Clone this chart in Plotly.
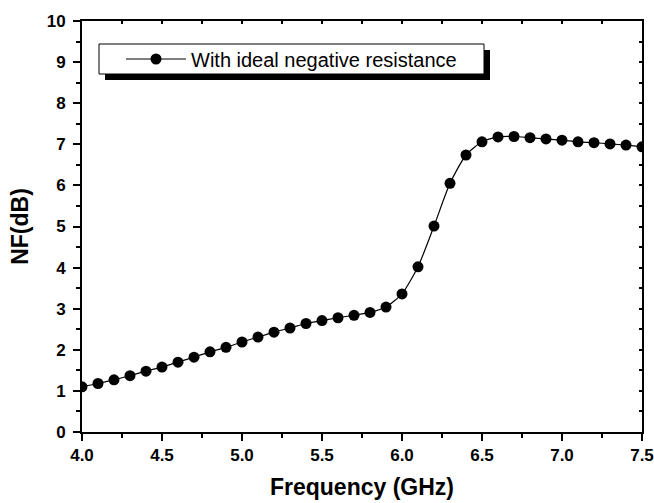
import plotly.graph_objects as go

freq_ghz = [4.0, 4.1, 4.2, 4.3, 4.4, 4.5, 4.6, 4.7, 4.8, 4.9,
            5.0, 5.1, 5.2, 5.3, 5.4, 5.5, 5.6, 5.7, 5.8, 5.9,
            6.0, 6.1, 6.2, 6.3, 6.4, 6.5, 6.6, 6.7, 6.8, 6.9,
            7.0, 7.1, 7.2, 7.3, 7.4, 7.5]
nf_db = [1.10, 1.18, 1.27, 1.37, 1.48, 1.58, 1.70, 1.82, 1.95, 2.06,
         2.19, 2.31, 2.43, 2.53, 2.64, 2.71, 2.78, 2.84, 2.91, 3.04,
         3.36, 4.02, 5.01, 6.05, 6.74, 7.06, 7.18, 7.19, 7.16, 7.13,
         7.10, 7.06, 7.04, 7.01, 6.98, 6.94]
series_name = "With ideal negative resistance"
x_ticks = [4.0, 4.5, 5.0, 5.5, 6.0, 6.5, 7.0, 7.5]
y_ticks = [0, 1, 2, 3, 4, 5, 6, 7, 8, 9, 10]

FONT = "Liberation Sans, Arial, sans-serif"

# plot area in pixels (for converting the legend box to paper coordinates)
L, R, T, B = 82, 12, 21, 71
W, H = 654, 503
PW, PH = W - L - R, H - T - B


def px(x):
    return (x - L) / PW


def py(y):
    return (H - B - y) / PH


fig = go.Figure()
fig.add_trace(go.Scatter(
    x=freq_ghz, y=nf_db, mode="lines+markers", name=series_name,
    line=dict(color="black", width=1.2, shape="spline", smoothing=0.6),
    marker=dict(color="black", size=11, symbol="circle"),
))
# invisible trace hosting mirrored (inward-tick) top/right axes
fig.add_trace(go.Scatter(x=[freq_ghz[0]], y=[nf_db[0]], xaxis="x2", yaxis="y2",
                         mode="markers", marker=dict(opacity=0), showlegend=False,
                         hoverinfo="skip"))

tickfont = dict(family=FONT, size=17, color="black", weight="bold")
titlefont = dict(family=FONT, size=23, color="black", weight="bold")
fig.update_layout(
    width=W, height=H,
    margin=dict(l=L, r=R, t=T, b=B, autoexpand=False),
    paper_bgcolor="white", plot_bgcolor="white",
    showlegend=True,
    legend=dict(x=px(121), y=py(59), xanchor="left", yanchor="middle",
                bgcolor="rgba(0,0,0,0)", borderwidth=0,
                font=dict(family=FONT, size=20, color="black"),
                itemwidth=60),
    xaxis=dict(range=[4.0, 7.5], tickvals=x_ticks, ticktext=[f"{v:.1f}" for v in x_ticks],
               ticks="outside", ticklen=7, tickwidth=2, tickcolor="black",
               minor=dict(dtick=0.25, ticks="outside", ticklen=4, tickwidth=2, tickcolor="black", tick0=4.0),
               showline=True, linecolor="black", linewidth=2, showgrid=False, zeroline=False,
               tickfont=tickfont, automargin=False,
               title=dict(text="Frequency (GHz)", font=titlefont, standoff=14)),
    yaxis=dict(range=[0, 10], tickvals=y_ticks,
               ticks="outside", ticklen=7, tickwidth=2, tickcolor="black",
               minor=dict(dtick=0.5, ticks="outside", ticklen=4, tickwidth=2, tickcolor="black", tick0=0),
               showline=True, linecolor="black", linewidth=2, showgrid=False, zeroline=False,
               tickfont=tickfont, automargin=False, ticklabelstandoff=4,
               title=dict(text="NF(dB)", font=titlefont, standoff=12)),
    xaxis2=dict(range=[4.0, 7.5], overlaying="x", side="top", anchor="y2",
                tickvals=x_ticks, showticklabels=False, automargin=False,
                ticks="inside", ticklen=3, tickwidth=2, tickcolor="black",
                minor=dict(dtick=0.25, ticks="inside", ticklen=3, tickwidth=2, tickcolor="black", tick0=4.0),
                showline=True, linecolor="black", linewidth=2, showgrid=False, zeroline=False),
    yaxis2=dict(range=[0, 10], overlaying="y", side="right", anchor="x2",
                tickvals=y_ticks, showticklabels=False, automargin=False,
                ticks="inside", ticklen=3, tickwidth=2, tickcolor="black",
                minor=dict(dtick=0.5, ticks="inside", ticklen=3, tickwidth=2, tickcolor="black", tick0=0),
                showline=True, linecolor="black", linewidth=2, showgrid=False, zeroline=False),
)
# legend drop shadow and box
fig.add_shape(type="rect", xref="paper", yref="paper",
              x0=px(105), x1=px(490), y0=py(80), y1=py(50),
              fillcolor="black", line=dict(width=0), layer="above")
fig.add_shape(type="rect", xref="paper", yref="paper",
              x0=px(99), x1=px(484), y0=py(74), y1=py(44),
              fillcolor="white", line=dict(color="black", width=1), layer="above")

fig.write_html("out.html")
